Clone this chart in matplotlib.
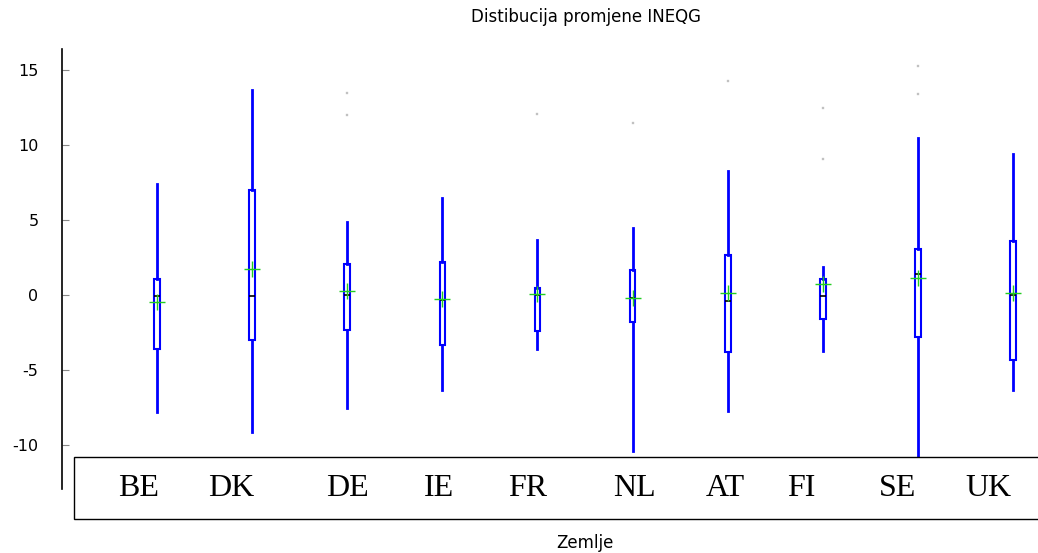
import matplotlib.pyplot as plt
import matplotlib.patches as mpatches

# countries in plot order
countries = ["BE", "DK", "DE", "IE", "FR", "NL", "AT", "FI", "SE", "UK"]

# box statistics
whis_lo = [-7.8, -9.1, -7.5, -6.3, -3.6, -10.4, -7.7, -3.7, -12.5, -6.3]
q1 = [-3.6, -3.0, -2.3, -3.3, -2.4, -1.8, -3.8, -1.6, -2.8, -4.3]
median = [-0.05, -0.05, 0.0, -0.3, 0.0, -0.2, -0.4, -0.07, 1.4, 0.0]
q3 = [1.1, 7.0, 2.1, 2.2, 0.5, 1.7, 2.7, 1.1, 3.1, 3.6]
whis_hi = [7.4, 13.7, 4.9, 6.5, 3.7, 4.5, 8.3, 1.9, 10.5, 9.4]
means = [-0.45, 1.75, 0.3, -0.25, 0.1, -0.2, 0.15, 0.75, 1.15, 0.15]
outliers = [[], [], [13.5, 12.0], [], [12.1], [11.5], [14.3], [12.5, 9.1], [15.3, 13.4], []]

# label positions in the lower box (pixels, as in the reference)
label_x = [139, 231, 347, 439, 528, 634, 725, 801, 898, 988]

W, H = 1038, 553
fig = plt.figure(figsize=(W / 100, H / 100), dpi=100)
ax = fig.add_axes([62 / W, 1 - 489 / H, 1 - 62 / W, (489 - 49) / H])

stats = []
for i in range(len(countries)):
    stats.append(dict(label=countries[i], whislo=whis_lo[i], q1=q1[i], med=median[i],
                      q3=q3[i], whishi=whis_hi[i], mean=means[i], fliers=outliers[i]))

ax.bxp(stats, positions=range(1, len(countries) + 1), widths=0.06,
       showmeans=True, showcaps=False, patch_artist=True,
       boxprops=dict(facecolor="white", edgecolor="#0000ff", linewidth=1.5),
       whiskerprops=dict(color="#0000ff", linewidth=2.0),
       medianprops=dict(color="black", linewidth=1.2),
       meanprops=dict(marker="+", markeredgecolor="#22cc22", markersize=11, markeredgewidth=1.0),
       flierprops=dict(marker="s", markersize=1.5, markerfacecolor="#bbbbbb",
                       markeredgecolor="#cccccc", markeredgewidth=0.3))

ax.set_xlim(0, 10.263)
ax.set_ylim(-12.93, 16.4)
ax.set_yticks([-10, -5, 0, 5, 10, 15])
ax.set_yticklabels(["-10", "-5", "0", "5", "10", "15"], fontsize=11.5, family="DejaVu Sans")
ax.set_xticks([])
ax.tick_params(axis="y", direction="in", length=5, color="#888888", pad=17)
for s in ["top", "right", "bottom"]:
    ax.spines[s].set_visible(False)
ax.spines["left"].set_linewidth(1.2)

# white box with the country names, drawn over the lower part of the plot
rect = mpatches.Rectangle((74 / W, 1 - 519 / H), 1.0, 62 / H, transform=fig.transFigure,
                          facecolor="white", edgecolor="black", linewidth=1.0, zorder=2)
fig.patches.append(rect)
for name, px in zip(countries, label_x):
    fig.text(px / W, 1 - 488 / H, name, ha="center", va="center", fontsize=23,
             family="Liberation Serif", zorder=3)

fig.text(586 / W, 1 - 17 / H, "Distibucija promjene INEQG", ha="center", va="center",
         fontsize=12, family="DejaVu Sans")
fig.text(585 / W, 1 - 543 / H, "Zemlje", ha="center", va="center",
         fontsize=12, family="DejaVu Sans")

plt.savefig("out.png", dpi=100)
